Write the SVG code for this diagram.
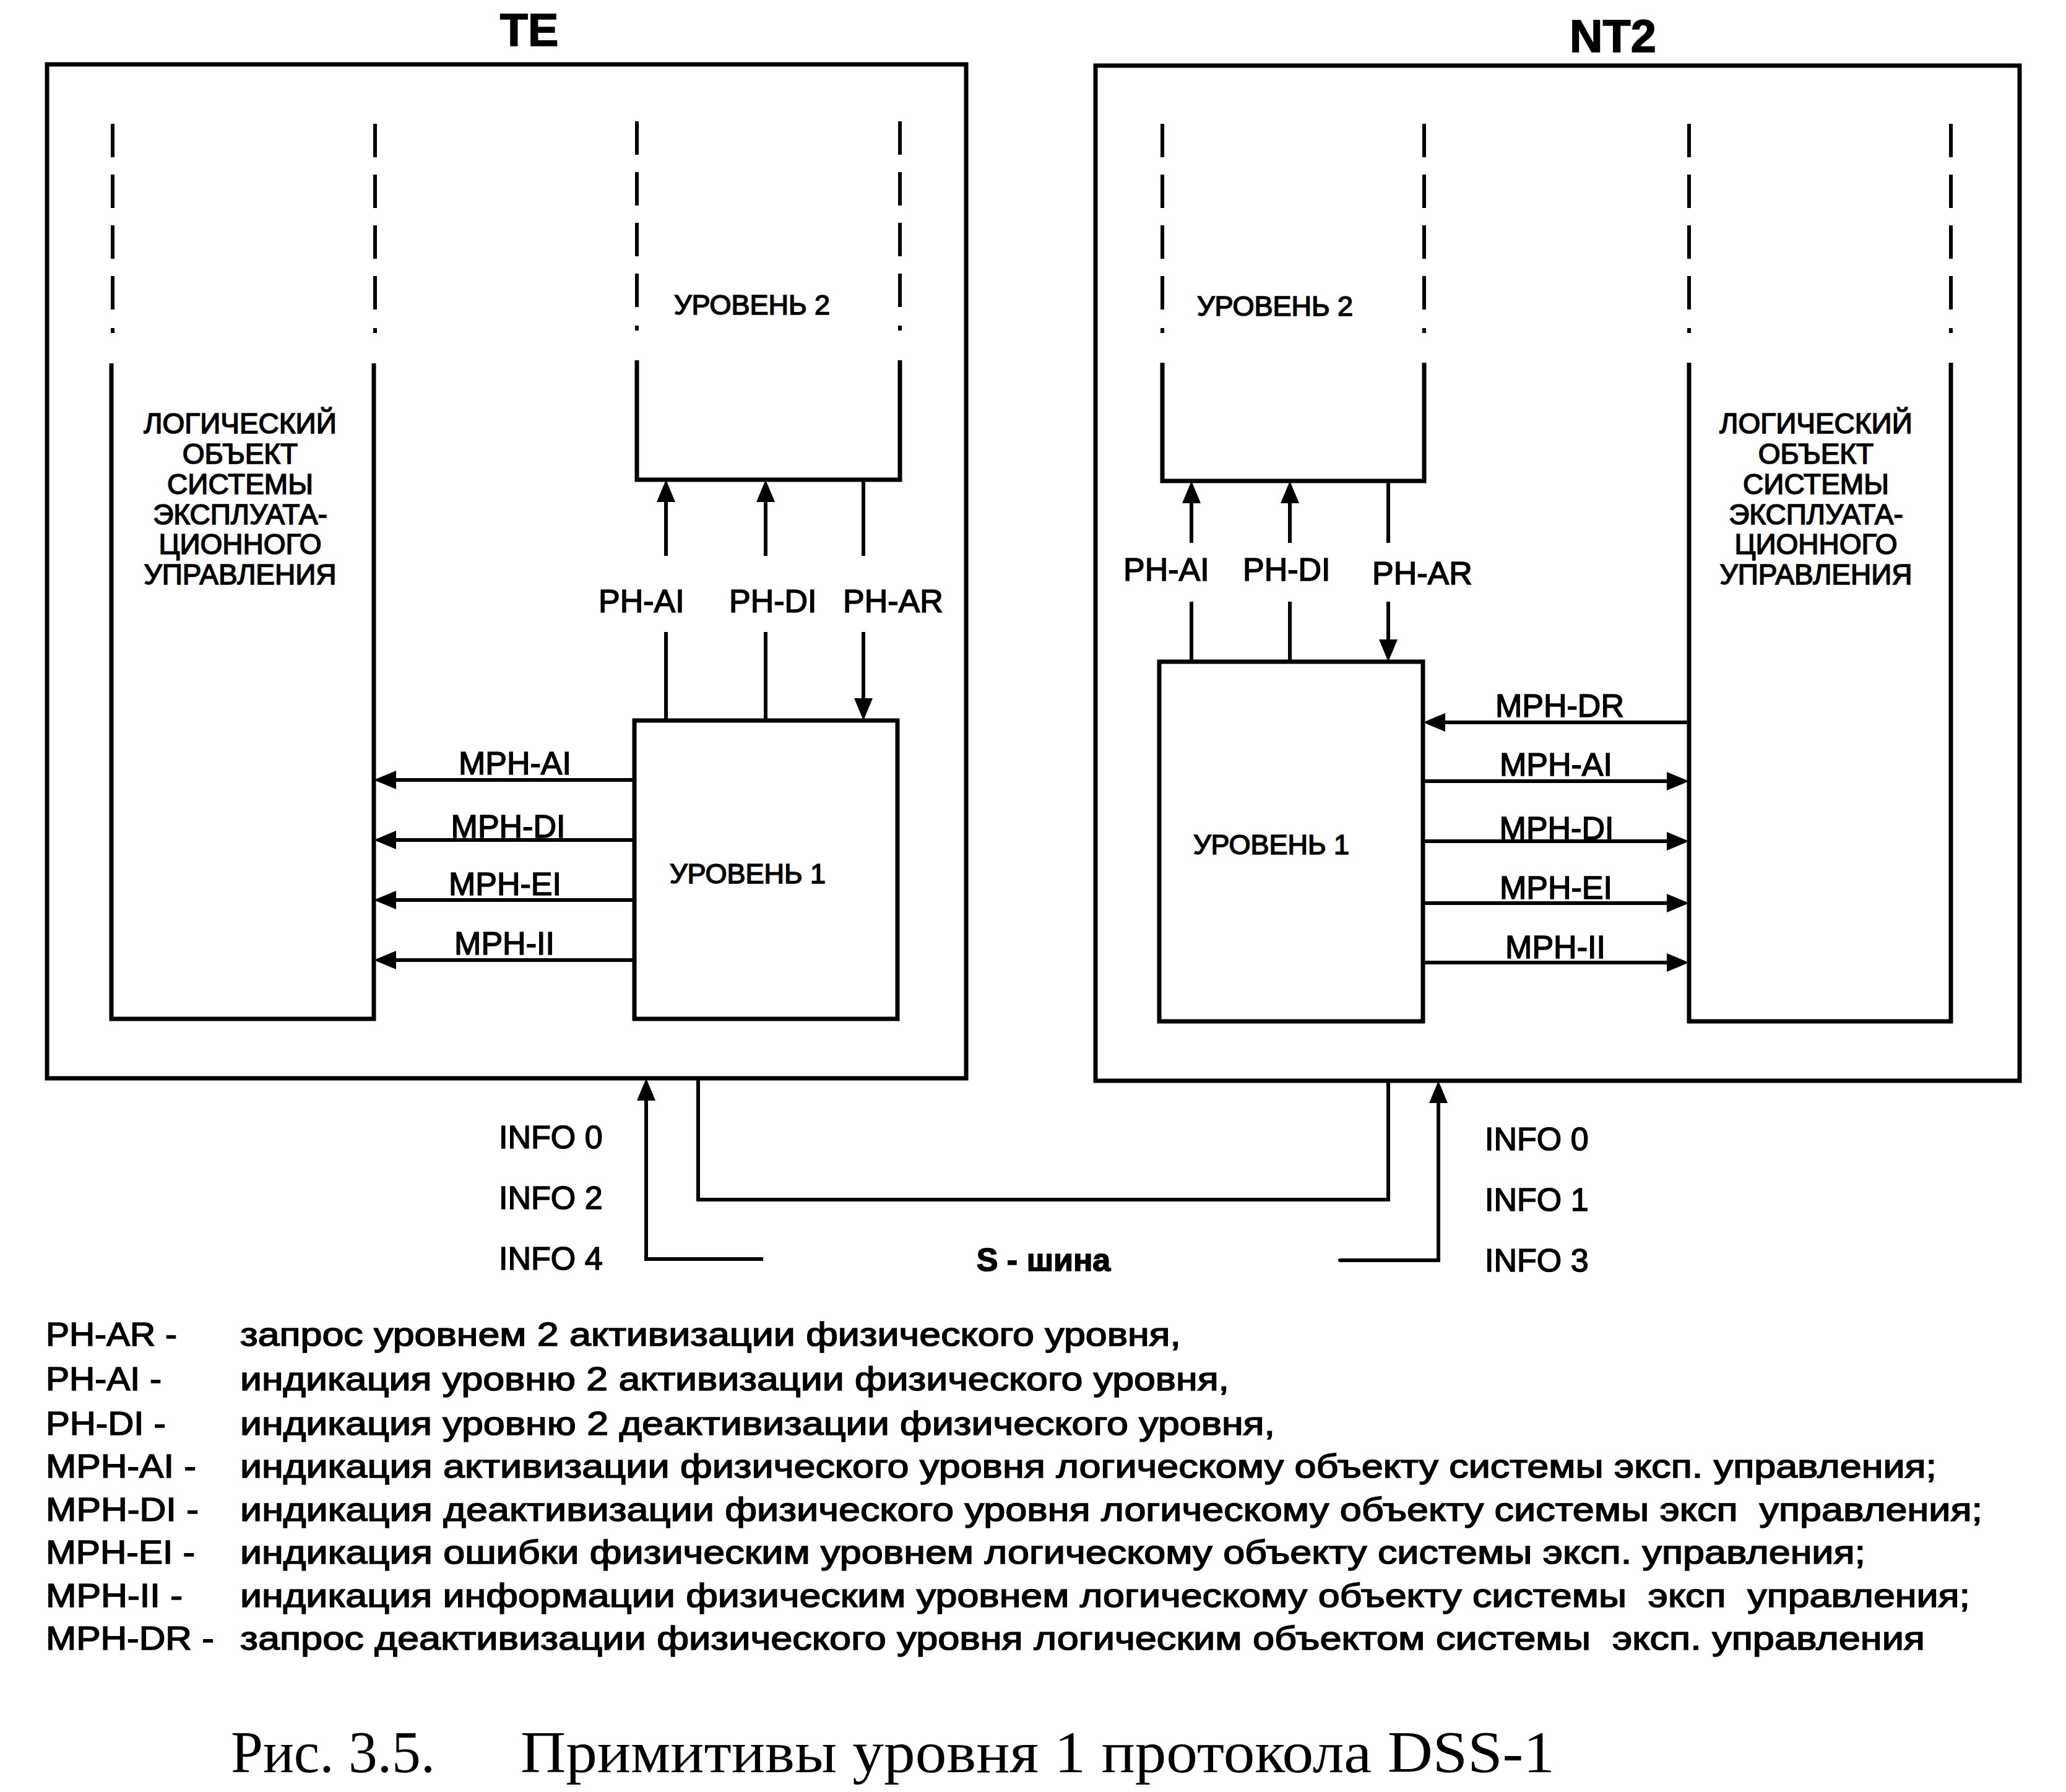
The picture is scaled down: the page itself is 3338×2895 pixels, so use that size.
<svg xmlns="http://www.w3.org/2000/svg" width="3338" height="2895" viewBox="0 0 3338 2895">
<style>
.box{fill:none;stroke:#000;stroke-width:7;stroke-linejoin:miter}
.ln{fill:none;stroke:#000;stroke-width:6}
.dash{fill:none;stroke:#000;stroke-width:6;stroke-dasharray:54 28 54 28 54 28 54 30 8 1000}
.t{font-family:"Liberation Sans",Arial,sans-serif;fill:#000;stroke:#000;stroke-width:1.6}
.lbl{font-size:52px}
.lvl{font-size:45px;text-anchor:middle}
.obj{font-size:46px;text-anchor:middle}
.ttl{font-size:74px;font-weight:bold;text-anchor:middle}
.leg{font-size:54px;white-space:pre}
.cap{font-family:"Liberation Serif","Times New Roman",serif;font-size:96px;fill:#000;white-space:pre}
</style>
<defs>
<marker id="ah" markerUnits="userSpaceOnUse" viewBox="0 0 36 30" markerWidth="36" markerHeight="30" refX="16" refY="15" orient="auto">
<path d="M0,0 L36,15 L0,30 z" fill="#000"/>
</marker>
</defs>
<rect width="3338" height="2895" fill="#fff"/>

<g id="TE">
<rect class="box" x="76" y="104" width="1485" height="1638"/>
<text class="t ttl" x="855" y="74">TE</text>
</g>
<g id="TE-logic">
<line class="dash" x1="182" y1="200" x2="182" y2="545"/>
<line class="dash" x1="606" y1="200" x2="606" y2="545"/>
<path class="box" d="M180,587 L180,1646 L604,1646 L604,587"/>
<text class="t obj"><tspan x="388" y="700">ЛОГИЧЕСКИЙ</tspan><tspan x="388" y="749">ОБЪЕКТ</tspan><tspan x="388" y="798">СИСТЕМЫ</tspan><tspan x="388" y="847">ЭКСПЛУАТА-</tspan><tspan x="388" y="895">ЦИОННОГО</tspan><tspan x="388" y="944">УПРАВЛЕНИЯ</tspan></text>
</g>
<g id="TE-L2">
<line class="dash" x1="1029" y1="196" x2="1029" y2="541"/>
<line class="dash" x1="1454" y1="196" x2="1454" y2="541"/>
<path class="box" d="M1029,582 L1029,775 L1454,775 L1454,582"/>
<text class="t lvl" x="1215" y="508">УРОВЕНЬ 2</text>
</g>
<g id="TE-L1">
<rect class="box" x="1025" y="1164" width="425" height="482"/>
<text class="t lvl" x="1208" y="1427">УРОВЕНЬ 1</text>
</g>

<g id="NT2">
<rect class="box" x="1770" y="106" width="1493" height="1640"/>
<text class="t ttl" x="2606" y="84">NT2</text>
</g>
<g id="NT2-L2">
<line class="dash" x1="1878" y1="200" x2="1878" y2="545"/>
<line class="dash" x1="2301" y1="200" x2="2301" y2="545"/>
<path class="box" d="M1878,586 L1878,777 L2301,777 L2301,586"/>
<text class="t lvl" x="2060" y="510">УРОВЕНЬ 2</text>
</g>
<g id="NT2-L1">
<rect class="box" x="1873" y="1069" width="426" height="581"/>
<text class="t lvl" x="2054" y="1380">УРОВЕНЬ 1</text>
</g>
<g id="NT2-logic">
<line class="dash" x1="2729" y1="200" x2="2729" y2="545"/>
<line class="dash" x1="3152" y1="200" x2="3152" y2="545"/>
<path class="box" d="M2729,586 L2729,1650 L3152,1650 L3152,586"/>
<text class="t obj"><tspan x="2934" y="700">ЛОГИЧЕСКИЙ</tspan><tspan x="2934" y="749">ОБЪЕКТ</tspan><tspan x="2934" y="798">СИСТЕМЫ</tspan><tspan x="2934" y="847">ЭКСПЛУАТА-</tspan><tspan x="2934" y="895">ЦИОННОГО</tspan><tspan x="2934" y="944">УПРАВЛЕНИЯ</tspan></text>
</g>

<g id="connectors">
<line class="ln" x1="1076" y1="898" x2="1076" y2="795" marker-end="url(#ah)"/>
<line class="ln" x1="1076" y1="1164" x2="1076" y2="1021"/>
<line class="ln" x1="1237" y1="898" x2="1237" y2="795" marker-end="url(#ah)"/>
<line class="ln" x1="1237" y1="1164" x2="1237" y2="1021"/>
<line class="ln" x1="1395" y1="775" x2="1395" y2="898"/>
<line class="ln" x1="1395" y1="1021" x2="1395" y2="1144" marker-end="url(#ah)"/>
<line class="ln" x1="1025" y1="1260" x2="624" y2="1260" marker-end="url(#ah)"/>
<line class="ln" x1="1025" y1="1357" x2="624" y2="1357" marker-end="url(#ah)"/>
<line class="ln" x1="1025" y1="1454" x2="624" y2="1454" marker-end="url(#ah)"/>
<line class="ln" x1="1025" y1="1551" x2="624" y2="1551" marker-end="url(#ah)"/>
<line class="ln" x1="1925" y1="877" x2="1925" y2="797" marker-end="url(#ah)"/>
<line class="ln" x1="1925" y1="1069" x2="1925" y2="972"/>
<line class="ln" x1="2084" y1="877" x2="2084" y2="797" marker-end="url(#ah)"/>
<line class="ln" x1="2084" y1="1069" x2="2084" y2="972"/>
<line class="ln" x1="2243" y1="777" x2="2243" y2="877"/>
<line class="ln" x1="2243" y1="972" x2="2243" y2="1049" marker-end="url(#ah)"/>
<line class="ln" x1="2729" y1="1167" x2="2319" y2="1167" marker-end="url(#ah)"/>
<line class="ln" x1="2299" y1="1262" x2="2709" y2="1262" marker-end="url(#ah)"/>
<line class="ln" x1="2299" y1="1359" x2="2709" y2="1359" marker-end="url(#ah)"/>
<line class="ln" x1="2299" y1="1459" x2="2709" y2="1459" marker-end="url(#ah)"/>
<line class="ln" x1="2299" y1="1555" x2="2709" y2="1555" marker-end="url(#ah)"/>
<path class="ln" d="M1233,2034 L1044,2034 L1044,1762" marker-end="url(#ah)"/>
<path class="ln" d="M1128,1742 L1128,1938 L2243,1938 L2243,1746"/>
<path class="ln" stroke-linecap="round" d="M2165,2036 L2324,2036 L2324,1766" marker-end="url(#ah)"/>
</g>

<g id="labels">
<text class="t lbl" x="967" y="989">PH-AI</text>
<text class="t lbl" x="1178" y="989">PH-DI</text>
<text class="t lbl" x="1362" y="989">PH-AR</text>
<text class="t lbl" x="1815" y="938">PH-AI</text>
<text class="t lbl" x="2008" y="938">PH-DI</text>
<text class="t lbl" x="2217" y="944">PH-AR</text>
<text class="t lbl" x="832" y="1251" text-anchor="middle">MPH-AI</text>
<text class="t lbl" x="821" y="1353" text-anchor="middle">MPH-DI</text>
<text class="t lbl" x="816" y="1446" text-anchor="middle">MPH-EI</text>
<text class="t lbl" x="815" y="1542" text-anchor="middle">MPH-II</text>
<text class="t lbl" x="2520" y="1158" text-anchor="middle">MPH-DR</text>
<text class="t lbl" x="2514" y="1253" text-anchor="middle">MPH-AI</text>
<text class="t lbl" x="2515" y="1356" text-anchor="middle">MPH-DI</text>
<text class="t lbl" x="2514" y="1452" text-anchor="middle">MPH-EI</text>
<text class="t lbl" x="2513" y="1548" text-anchor="middle">MPH-II</text>
<text class="t lbl" x="806" y="1855">INFO 0</text>
<text class="t lbl" x="806" y="1953">INFO 2</text>
<text class="t lbl" x="806" y="2051">INFO 4</text>
<text class="t lbl" x="2399" y="1858">INFO 0</text>
<text class="t lbl" x="2399" y="1956">INFO 1</text>
<text class="t lbl" x="2399" y="2054">INFO 3</text>
<text class="t lbl" x="1686" y="2053" font-weight="bold" text-anchor="middle">S - шина</text>
</g>

<g id="legend">
<text class="t leg" x="74" y="2174" textLength="212" lengthAdjust="spacingAndGlyphs">PH-AR -</text>
<text class="t leg" x="74" y="2246" textLength="187" lengthAdjust="spacingAndGlyphs">PH-AI -</text>
<text class="t leg" x="74" y="2318" textLength="194" lengthAdjust="spacingAndGlyphs">PH-DI -</text>
<text class="t leg" x="74" y="2387" textLength="243" lengthAdjust="spacingAndGlyphs">MPH-AI -</text>
<text class="t leg" x="74" y="2457" textLength="247" lengthAdjust="spacingAndGlyphs">MPH-DI -</text>
<text class="t leg" x="74" y="2526" textLength="241" lengthAdjust="spacingAndGlyphs">MPH-EI -</text>
<text class="t leg" x="74" y="2596" textLength="221" lengthAdjust="spacingAndGlyphs">MPH-II -</text>
<text class="t leg" x="74" y="2665" textLength="272" lengthAdjust="spacingAndGlyphs">MPH-DR -</text>
<text class="t leg" x="388" y="2174" textLength="1520" lengthAdjust="spacingAndGlyphs">запрос уровнем 2 активизации физического уровня,</text>
<text class="t leg" x="388" y="2246" textLength="1598" lengthAdjust="spacingAndGlyphs">индикация уровню 2 активизации физического уровня,</text>
<text class="t leg" x="388" y="2318" textLength="1672" lengthAdjust="spacingAndGlyphs">индикация уровню 2 деактивизации физического уровня,</text>
<text class="t leg" x="388" y="2387" textLength="2741" lengthAdjust="spacingAndGlyphs">индикация активизации физического уровня логическому объекту системы эксп. управления;</text>
<text class="t leg" x="388" y="2457" textLength="2815" lengthAdjust="spacingAndGlyphs">индикация деактивизации физического уровня логическому объекту системы эксп  управления;</text>
<text class="t leg" x="388" y="2526" textLength="2626" lengthAdjust="spacingAndGlyphs">индикация ошибки физическим уровнем логическому объекту системы эксп. управления;</text>
<text class="t leg" x="388" y="2596" textLength="2795" lengthAdjust="spacingAndGlyphs">индикация информации физическим уровнем логическому объекту системы  эксп  управления;</text>
<text class="t leg" x="388" y="2665" textLength="2722" lengthAdjust="spacingAndGlyphs">запрос деактивизации физического уровня логическим объектом системы  эксп. управления</text>
</g>

<g id="caption">
<text class="cap" x="373" y="2863" textLength="330" lengthAdjust="spacingAndGlyphs">Рис. 3.5.</text>
<text class="cap" x="841" y="2863" textLength="1671" lengthAdjust="spacingAndGlyphs">Примитивы уровня 1 протокола DSS-1</text>
</g>
</svg>
